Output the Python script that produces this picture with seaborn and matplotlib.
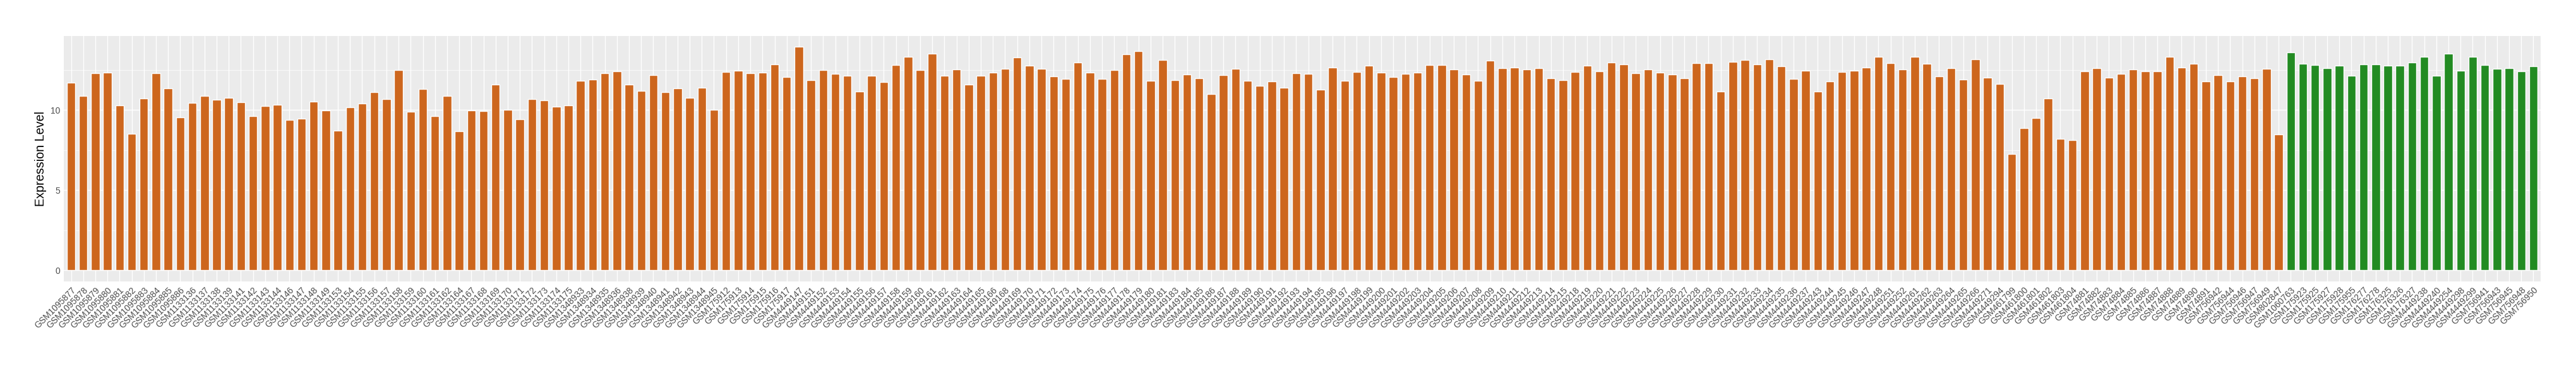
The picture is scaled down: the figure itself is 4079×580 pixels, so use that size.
import matplotlib
matplotlib.use("Agg")
import matplotlib.pyplot as plt
import seaborn as sns
import pandas as pd
from matplotlib.ticker import MultipleLocator

# samples in the first group (orange), in plot order
orange_samples = [
    "GSM1095877", "GSM1095878", "GSM1095879", "GSM1095880", "GSM1095881",
    "GSM1095882", "GSM1095883", "GSM1095884", "GSM1095885", "GSM1095886",
    "GSM1133136", "GSM1133137", "GSM1133138", "GSM1133139", "GSM1133141",
    "GSM1133142", "GSM1133143", "GSM1133144", "GSM1133146", "GSM1133147",
    "GSM1133148", "GSM1133149", "GSM1133153", "GSM1133154", "GSM1133155",
    "GSM1133156", "GSM1133157", "GSM1133158", "GSM1133159", "GSM1133160",
    "GSM1133161", "GSM1133162", "GSM1133164", "GSM1133167", "GSM1133168",
    "GSM1133169", "GSM1133170", "GSM1133171", "GSM1133172", "GSM1133173",
    "GSM1133174", "GSM1133175", "GSM1348933", "GSM1348934", "GSM1348935",
    "GSM1348936", "GSM1348938", "GSM1348939", "GSM1348940", "GSM1348941",
    "GSM1348942", "GSM1348943", "GSM1348944", "GSM1348945", "GSM175912",
    "GSM175913", "GSM175914", "GSM175915", "GSM175916", "GSM175917",
    "GSM4449147", "GSM4449151", "GSM4449152", "GSM4449153", "GSM4449154",
    "GSM4449155", "GSM4449156", "GSM4449157", "GSM4449158", "GSM4449159",
    "GSM4449160", "GSM4449161", "GSM4449162", "GSM4449163", "GSM4449164",
    "GSM4449165", "GSM4449166", "GSM4449168", "GSM4449169", "GSM4449170",
    "GSM4449171", "GSM4449172", "GSM4449173", "GSM4449174", "GSM4449175",
    "GSM4449176", "GSM4449177", "GSM4449178", "GSM4449179", "GSM4449180",
    "GSM4449181", "GSM4449183", "GSM4449184", "GSM4449185", "GSM4449186",
    "GSM4449187", "GSM4449188", "GSM4449189", "GSM4449190", "GSM4449191",
    "GSM4449192", "GSM4449193", "GSM4449194", "GSM4449195", "GSM4449196",
    "GSM4449197", "GSM4449198", "GSM4449199", "GSM4449200", "GSM4449201",
    "GSM4449202", "GSM4449203", "GSM4449204", "GSM4449205", "GSM4449206",
    "GSM4449207", "GSM4449208", "GSM4449209", "GSM4449210", "GSM4449211",
    "GSM4449212", "GSM4449213", "GSM4449214", "GSM4449215", "GSM4449218",
    "GSM4449219", "GSM4449220", "GSM4449221", "GSM4449222", "GSM4449223",
    "GSM4449224", "GSM4449225", "GSM4449226", "GSM4449227", "GSM4449228",
    "GSM4449229", "GSM4449230", "GSM4449231", "GSM4449232", "GSM4449233",
    "GSM4449234", "GSM4449235", "GSM4449236", "GSM4449237", "GSM4449243",
    "GSM4449244", "GSM4449245", "GSM4449246", "GSM4449247", "GSM4449248",
    "GSM4449251", "GSM4449252", "GSM4449261", "GSM4449262", "GSM4449263",
    "GSM4449264", "GSM4449265", "GSM4449266", "GSM4449271", "GSM4449294",
    "GSM461799", "GSM461800", "GSM461801", "GSM461802", "GSM461803",
    "GSM461804", "GSM74881", "GSM74882", "GSM74883", "GSM74884",
    "GSM74885", "GSM74886", "GSM74887", "GSM74888", "GSM74889",
    "GSM74890", "GSM74891", "GSM756942", "GSM756944", "GSM756946",
    "GSM756947", "GSM756949", "GSM802847",
]
orange_values = [
    11.70, 10.87, 12.28, 12.33, 10.29, 8.52, 10.71, 12.28, 11.35, 9.53,
    10.44, 10.87, 10.64, 10.76, 10.48, 9.62, 10.25, 10.32, 9.38, 9.46,
    10.52, 9.97, 8.71, 10.16, 10.41, 11.10, 10.68, 12.49, 9.88, 11.31,
    9.62, 10.87, 8.68, 9.97, 9.93, 11.58, 10.01, 9.42, 10.68, 10.60,
    10.20, 10.29, 11.82, 11.89, 12.28, 12.41, 11.58, 11.19, 12.17, 11.10,
    11.35, 10.76, 11.38, 10.01, 12.37, 12.44, 12.28, 12.33, 12.83, 12.05,
    13.94, 11.86, 12.49, 12.25, 12.14, 11.15, 12.14, 11.74, 12.81, 13.34,
    12.49, 13.50, 12.14, 12.53, 11.58, 12.14, 12.33, 12.56, 13.27, 12.76,
    12.56, 12.09, 11.93, 12.95, 12.33, 11.93, 12.49, 13.47, 13.66, 11.82,
    13.11, 11.86, 12.21, 11.98, 10.99, 12.17, 12.56, 11.82, 11.50, 11.77,
    11.38, 12.28, 12.25, 11.26, 12.67, 11.82, 12.37, 12.76, 12.33, 12.05,
    12.25, 12.33, 12.81, 12.81, 12.53, 12.21, 11.82, 13.07, 12.60, 12.65,
    12.53, 12.60, 11.98, 11.86, 12.37, 12.76, 12.41, 12.95, 12.83, 12.28,
    12.53, 12.33, 12.21, 11.98, 12.92, 12.92, 11.15, 12.99, 13.11, 12.83,
    13.15, 12.72, 11.93, 12.44, 11.15, 11.77, 12.37, 12.44, 12.67, 13.34,
    12.92, 12.53, 13.31, 12.88, 12.09, 12.60, 11.89, 13.15, 12.01, 11.61,
    7.24, 8.87, 9.49, 10.71, 8.20, 8.13, 12.41, 12.60, 12.01, 12.25,
    12.53, 12.41, 12.41, 13.31, 12.65, 12.88, 11.77, 12.17, 11.77, 12.09,
    11.98, 12.56, 8.47,
]

# samples in the second group (green)
green_samples = [
    "GSM1060763", "GSM175923", "GSM175925", "GSM175927", "GSM175928",
    "GSM175955", "GSM176277", "GSM176278", "GSM176325", "GSM176326",
    "GSM176327", "GSM4449238", "GSM4449240", "GSM4449254", "GSM4449298",
    "GSM4449299", "GSM756941", "GSM756943", "GSM756945", "GSM756948",
    "GSM756950",
]
green_values = [
    13.59, 12.88, 12.81, 12.60, 12.76, 12.14, 12.83, 12.83, 12.76, 12.76,
    12.95, 13.31, 12.14, 13.50, 12.44, 13.34, 12.81, 12.56, 12.60, 12.41,
    12.72,
]

ORANGE = "#CD661D"
GREEN = "#228B22"

df = pd.DataFrame({
    "sample": orange_samples + green_samples,
    "value": orange_values + green_values,
    "group": ["orange"] * len(orange_samples) + ["green"] * len(green_samples),
})
n = len(df)

sns.set_theme(style="darkgrid")
plt.rcParams["font.family"] = ["Liberation Sans", "DejaVu Sans"]

W, H = 4080, 580
fig = plt.figure(figsize=(W / 100, H / 100), dpi=100)
fig.patch.set_facecolor("white")
ax = fig.add_axes([101 / W, 1 - 445.8 / H, 3922 / W, 389.2 / H])

sns.barplot(data=df, x="sample", y="value", hue="group",
            palette={"orange": ORANGE, "green": GREEN},
            dodge=False, width=0.7, saturation=1, legend=False, ax=ax)

# ggplot-like panel
ax.set_facecolor("#EBEBEB")
for s in ax.spines.values():
    s.set_visible(False)
ymax = max(df["value"])
ax.set_ylim(-0.05 * ymax, 1.05 * ymax)
ax.set_xlim(-0.6, n - 0.4)
ax.yaxis.set_major_locator(MultipleLocator(5))
ax.yaxis.set_minor_locator(MultipleLocator(2.5))
ax.grid(True, which="major", axis="both", color="white", linewidth=1.0)
ax.grid(True, which="minor", axis="y", color="white", linewidth=0.5)
ax.set_axisbelow(True)

ax.tick_params(axis="both", which="major", length=3.2, width=0.8,
               color="#333333", labelcolor="#4D4D4D", labelsize=10)
ax.tick_params(axis="y", which="major", pad=1)
ax.tick_params(axis="x", which="major", pad=1.5)
ax.tick_params(which="minor", length=0)
plt.setp(ax.get_xticklabels(), rotation=45, ha="right", va="top",
         rotation_mode="anchor")

ax.set_xlabel("")
ax.set_ylabel("Expression Level", fontsize=14.2, color="black")
ax.yaxis.set_label_coords(-27 / 3922, 0.5)

fig.savefig("out.png", dpi=100, facecolor="white")
